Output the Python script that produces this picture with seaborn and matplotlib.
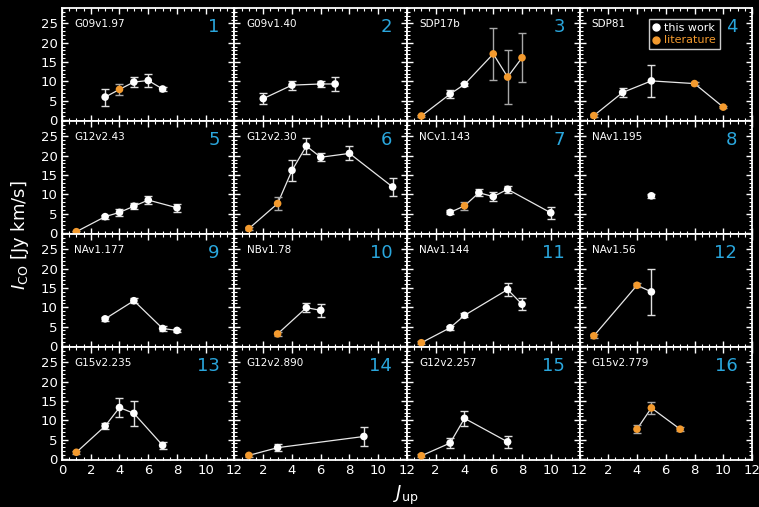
import numpy as np
import pandas as pd
import matplotlib
matplotlib.use("Agg")
import matplotlib.pyplot as plt
from matplotlib.lines import Line2D
from matplotlib.ticker import MultipleLocator
import seaborn as sns

# ---------------- data ----------------
names = ["G09v1.97", "G09v1.40", "SDP17b", "SDP81",
         "G12v2.43", "G12v2.30", "NCv1.143", "NAv1.195",
         "NAv1.177", "NBv1.78", "NAv1.144", "NAv1.56",
         "G15v2.235", "G12v2.890", "G12v2.257", "G15v2.779"]

J_up = [
    [3, 4, 5, 6, 7],
    [2, 4, 6, 7],
    [1, 3, 4, 6, 7, 8],
    [1, 3, 5, 8, 10],
    [1, 3, 4, 5, 6, 8],
    [1, 3, 4, 5, 6, 8, 11],
    [3, 4, 5, 6, 7, 10],
    [5],
    [3, 5, 7, 8],
    [3, 5, 6],
    [1, 3, 4, 7, 8],
    [1, 4, 5],
    [1, 3, 4, 5, 7],
    [1, 3, 9],
    [1, 3, 4, 7],
    [4, 5, 7],
]

I_co = [
    [5.9, 7.9, 9.8, 10.2, 8.0],
    [5.5, 9.0, 9.3, 9.3],
    [1.0, 6.7, 9.2, 17.1, 11.1, 16.1],
    [1.1, 7.1, 10.1, 9.4, 3.3],
    [0.3, 4.2, 5.3, 6.9, 8.5, 6.5],
    [1.1, 7.6, 16.2, 22.5, 19.6, 20.6, 11.9],
    [5.3, 7.0, 10.4, 9.4, 11.3, 5.2],
    [9.6],
    [7.0, 11.7, 4.5, 4.0],
    [3.1, 9.9, 9.2],
    [0.8, 4.7, 7.9, 14.6, 10.8],
    [2.6, 15.7, 14.0],
    [1.7, 8.5, 13.3, 11.8, 3.5],
    [0.9, 2.9, 5.8],
    [0.8, 4.1, 10.5, 4.4],
    [7.7, 13.2, 7.7],
]

I_err = [
    [2.2, 1.5, 1.2, 1.7, 0.6],
    [1.4, 1.2, 0.9, 1.8],
    [0.3, 1.0, 0.4, 6.8, 7.0, 6.4],
    [0.3, 1.1, 4.2, 0.4, 0.3],
    [0.3, 0.5, 1.0, 0.8, 1.0, 1.0],
    [0.4, 1.6, 2.7, 2.0, 1.0, 1.8, 2.4],
    [0.5, 1.1, 0.9, 1.2, 0.9, 1.6],
    [0.5],
    [0.5, 0.7, 0.7, 0.4],
    [0.5, 1.2, 1.7],
    [0.4, 0.5, 0.5, 1.7, 1.6],
    [0.5, 0.5, 6.0],
    [0.4, 0.8, 2.5, 3.2, 0.9],
    [0.4, 0.9, 2.4],
    [0.4, 1.2, 2.0, 1.6],
    [1.1, 1.6, 0.5],
]

# 1 = literature value, 0 = this work
is_lit = [
    [0, 1, 0, 0, 0],
    [0, 0, 0, 0],
    [1, 0, 0, 1, 1, 1],
    [1, 0, 0, 1, 1],
    [1, 0, 0, 0, 0, 0],
    [1, 1, 0, 0, 0, 0, 0],
    [0, 1, 0, 0, 0, 0],
    [0],
    [0, 0, 0, 0],
    [1, 0, 0],
    [1, 0, 0, 0, 0],
    [1, 1, 0],
    [1, 0, 0, 0, 0],
    [1, 0, 0],
    [1, 0, 0, 0],
    [1, 1, 1],
]

y_ticks = [0, 5, 10, 15, 20, 25]
x_ticks = [0, 2, 4, 6, 8, 10, 12]

# ---------------- style ----------------
sns.set_style("dark", {"axes.facecolor": "black", "figure.facecolor": "black",
                       "axes.edgecolor": "white", "text.color": "white",
                       "xtick.color": "white", "ytick.color": "white",
                       "axes.grid": False})
plt.rcParams["font.family"] = ["DejaVu Sans"]
plt.rcParams["mathtext.fontset"] = "dejavusans"

WHITE = "white"
ORANGE = "#f39a2e"
CYAN = "#2aa6dc"

fig, axes = plt.subplots(4, 4, figsize=(7.59, 5.07), dpi=100)
fig.patch.set_facecolor("black")
fig.subplots_adjust(left=62 / 759, right=752 / 759, top=1 - 8 / 507,
                    bottom=1 - 460 / 507, wspace=0, hspace=0)

for k, ax in enumerate(axes.flat):
    df = pd.DataFrame({"J": J_up[k], "I": I_co[k], "err": I_err[k],
                       "lit": is_lit[k]})
    ax.set_facecolor("black")
    if len(df) > 1:
        sns.lineplot(data=df, x="J", y="I", ax=ax, color="#e8e8e8",
                     linewidth=0.9, sort=False, zorder=2)
    for lit_flag, ecol in [(0, "#e0e0e0"), (1, "#a8a8a8")]:
        sub = df[df["lit"] == lit_flag]
        if len(sub):
            ax.errorbar(sub["J"], sub["I"], yerr=sub["err"], fmt="none",
                        ecolor=ecol, elinewidth=1.0, capsize=2.6,
                        capthick=1.0, zorder=3)
    df["col"] = np.where(df["lit"] == 1, "lit", "work")
    sns.scatterplot(data=df, x="J", y="I", hue="col", ax=ax,
                    palette={"lit": ORANGE, "work": WHITE},
                    s=30, edgecolor="none", legend=False, zorder=4)

    ax.set_xlim(0, 12)
    ax.set_ylim(-0.3, 29)
    ax.set_xlabel("")
    ax.set_ylabel("")
    ax.set_xticks(x_ticks)
    ax.set_yticks(y_ticks)
    ax.xaxis.set_minor_locator(MultipleLocator(0.5))
    ax.yaxis.set_minor_locator(MultipleLocator(1))
    ax.tick_params(which="both", direction="in", top=True, right=True,
                   bottom=True, left=True, colors="white", labelsize=9.5,
                   pad=3)
    ax.tick_params(which="major", length=4, width=1.0)
    ax.tick_params(which="minor", length=2, width=0.8)
    for sp in ax.spines.values():
        sp.set_color("white")
        sp.set_linewidth(1.3)

    row, col = divmod(k, 4)
    if row == 3:
        labels = [str(t) for t in x_ticks]
        if col > 0:
            labels[0] = ""
        ax.set_xticklabels(labels)
    else:
        ax.set_xticklabels([])
    if col == 0:
        ax.set_yticklabels([str(t) for t in y_ticks])
    else:
        ax.set_yticklabels([])

    ax.text(0.07, 0.855, names[k], transform=ax.transAxes, color="white",
            fontsize=7.5, ha="left", va="center")
    ax.text(0.915, 0.83, str(k + 1), transform=ax.transAxes, color=CYAN,
            fontsize=13, ha="right", va="center")

# legend in panel 4
handles = [Line2D([], [], marker="o", linestyle="none", color=WHITE,
                  markersize=5, label="this work"),
           Line2D([], [], marker="o", linestyle="none", color=ORANGE,
                  markersize=5, label="literature")]
leg = axes[0, 3].legend(handles=handles, loc="upper right",
                        bbox_to_anchor=(0.815, 0.905), fontsize=8,
                        frameon=True, fancybox=False, handlelength=0.6,
                        handletextpad=0.45, borderpad=0.35, labelspacing=0.25,
                        borderaxespad=0)
leg.get_frame().set_facecolor("black")
leg.get_frame().set_edgecolor("white")
leg.get_frame().set_linewidth(1.0)
leg.get_texts()[0].set_color(WHITE)
leg.get_texts()[1].set_color(ORANGE)

fig.text(20 / 759, 1 - 235 / 507, r"$I_{\rm CO}$ [Jy km/s]", rotation=90,
         ha="center", va="center", color="white", fontsize=13)
fig.text(406 / 759, 1 - 495 / 507, r"$J_{\rm up}$", ha="center",
         va="center", color="white", fontsize=13)

fig.savefig("out.png", dpi=100, facecolor="black")
